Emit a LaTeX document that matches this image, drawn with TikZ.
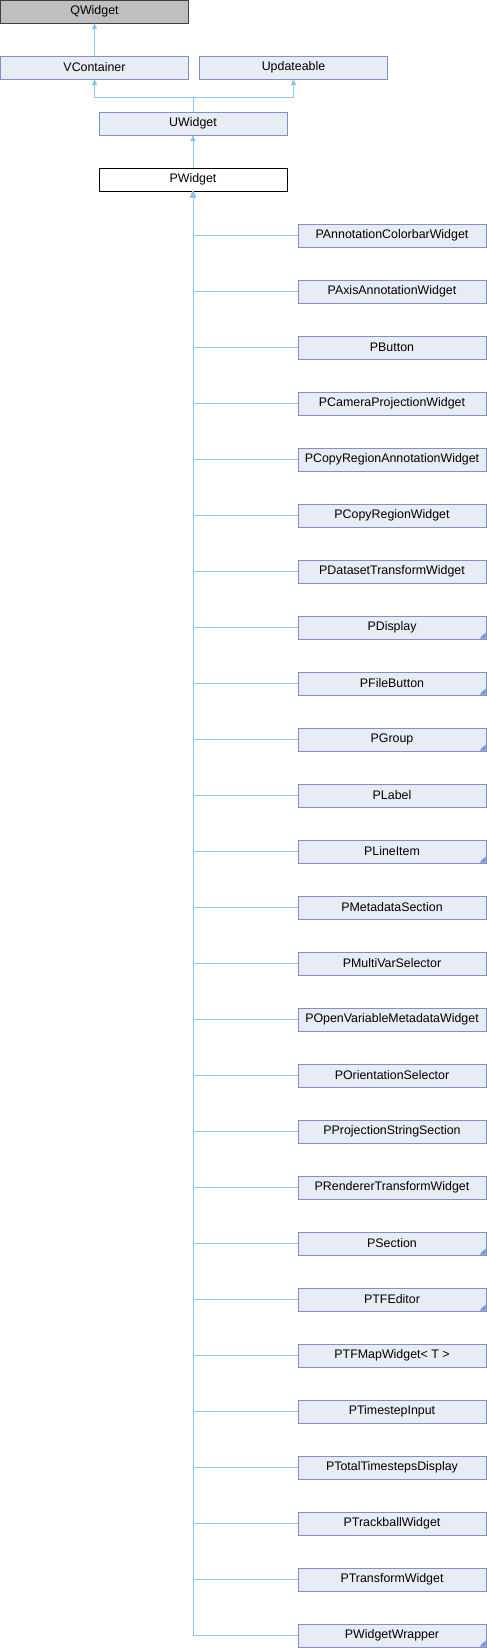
\documentclass[tikz,border=0pt]{standalone}
\usepackage{fontspec}
\setmainfont{Liberation Sans}
\usetikzlibrary{arrows.meta}
\definecolor{boxfill}{HTML}{E8ECF5}
\definecolor{boxline}{HTML}{7B93CA}
\definecolor{edgecol}{HTML}{8FC4EA}
\definecolor{greyfill}{HTML}{BFBFBF}
\definecolor{greyline}{HTML}{404040}
\tikzset{
  cls/.style={draw=boxline, fill=boxfill, line width=0.8bp, minimum width=188bp,
    minimum height=23bp, inner sep=0pt, outer sep=0pt, text=black,
    font=\fontsize{12.4bp}{14bp}\selectfont},
  greycls/.style={cls, draw=greyline, fill=greyfill},
  curcls/.style={cls, draw=black, fill=white},
  edge/.style={draw=edgecol, line width=0.9bp},
  inh/.style={edge, {Triangle[width=5bp,length=6bp]}-},
  fold/.style={fill=boxline}
}
\begin{document}
\begin{tikzpicture}[x=1bp,y=1bp]
\useasboundingbox (0,0) rectangle (487,-1648);
\node[greycls] (qw) at (94.5,-11.75) {QWidget};
\node[cls] (vc) at (94.5,-67.5) {VContainer};
\node[cls] (up) at (293.5,-67.5) {Updateable};
\node[cls] (uw) at (193,-123.5) {UWidget};
\node[curcls] (pw) at (193,-179.5) {PWidget};
\draw[inh] (qw.south) -- (vc.north);
\coordinate (j) at (193,-97);
\draw[inh] (vc.south) -- (vc.south |- j) -- (j);
\draw[inh] (up.south) -- (up.south |- j) -- (j);
\draw[edge] (j) -- (uw.north);
\draw[inh] (uw.south) -- (pw.north);
\foreach \nm/\fl [count=\k from 0] in {
  PAnnotationColorbarWidget/0, PAxisAnnotationWidget/0, PButton/0,
  PCameraProjectionWidget/0, PCopyRegionAnnotationWidget/0, PCopyRegionWidget/0,
  PDatasetTransformWidget/0, PDisplay/1, PFileButton/1, PGroup/1, PLabel/0,
  PLineItem/1, PMetadataSection/0, PMultiVarSelector/0,
  POpenVariableMetadataWidget/0, POrientationSelector/0,
  PProjectionStringSection/0, PRendererTransformWidget/0, PSection/1,
  PTFEditor/1, {PTFMapWidget< T >}/0, PTimestepInput/0,
  PTotalTimestepsDisplay/0, PTrackballWidget/0, PTransformWidget/0,
  PWidgetWrapper/1} {
  \node[cls] (c\k) at (392,{-(235.5+56*\k)}) {\nm};
  \ifnum\fl=1
    \fill[fold] ([xshift=-0.4bp,yshift=0.4bp]c\k.south east) -- ++(-6bp,0) -- ++(6bp,6bp) -- cycle;
  \fi
  \draw[inh] (pw.south) -- (pw.south |- c\k.west) -- (c\k.west);
}
\end{tikzpicture}
\end{document}
